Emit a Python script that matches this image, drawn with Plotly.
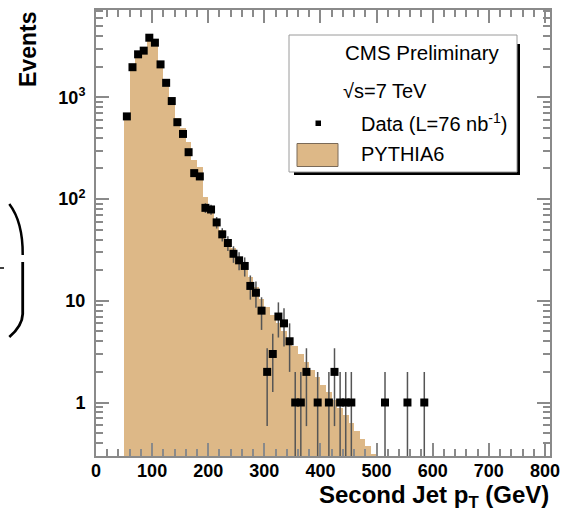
import numpy as np
import plotly.graph_objects as go

# ---------------- data ----------------
data_pt = [55, 65, 75, 85, 95, 105, 115, 125, 135, 145, 155, 165, 175, 185, 195,
           205, 215, 225, 235, 245, 255, 265, 275, 285, 295, 305, 315, 325, 335,
           345, 355, 365, 375, 395, 415, 425, 435, 445, 455, 515, 555, 585]
data_n = [650, 1980, 2650, 2880, 3860, 3450, 2110, 1390, 920, 570, 437, 289, 180,
          167, 82, 79, 59, 45, 37, 29, 25, 22, 14, 12, 8, 2, 3, 7, 6, 4, 1, 1, 2,
          1, 1, 2, 1, 1, 1, 1, 1, 1]

mc_pt = [55, 65, 75, 85, 95, 105, 115, 125, 135, 145, 155, 165, 175, 185, 195,
         205, 215, 225, 235, 245, 255, 265, 275, 285, 295, 305, 315, 325, 335,
         345, 355, 365, 375, 385, 395, 405, 415, 425, 435, 445, 455, 465, 475,
         485, 495]
mc_val = [670, 2080, 2550, 3100, 3600, 3280, 2240, 1480, 985, 630, 495, 367, 242,
          208, 105, 81, 62, 50, 40, 33, 27, 21.6, 17.3, 13.8, 10.4, 8.7, 7.3, 6.1,
          5.1, 4.3, 3.6, 3.0, 2.5, 2.1, 1.8, 1.5, 1.26, 1.06, 0.89, 0.75, 0.63,
          0.53, 0.44, 0.37, 0.31]
bin_width = 10

x_major = [0, 100, 200, 300, 400, 500, 600, 700, 800]
x_minor = [v for v in range(0, 820, 20) if v % 100 != 0]
y_major = [1, 10, 100, 1000]
y_major_text = ["<b>1</b>", "<b>10</b>", "<b>10<sup>2</sup></b>", "<b>10<sup>3</sup></b>"]
y_minor = [m * 10 ** e for e in range(-1, 4) for m in range(2, 10)
           if 0.29 < m * 10 ** e < 7300]

# ---------------- layout geometry (pixels) ----------------
FW, FH = 561, 512
ML, MR, MT, MB = 96, 11, 10, 56
PW, PH = FW - ML - MR, FH - MT - MB


def px(x):
    return (x - ML) / PW


def py(y):
    return (FH - MB - y) / PH


FRAME = "#8a8a8a"
TAN = "#DDB887"
FONT = "Liberation Sans"

fig = go.Figure()

fig.add_trace(go.Bar(
    x=mc_pt, y=mc_val, width=bin_width,
    marker=dict(color=TAN, line=dict(width=0)),
    showlegend=False, hoverinfo="skip"))

err = [float(np.sqrt(n)) for n in data_n]
fig.add_trace(go.Scatter(
    x=data_pt, y=data_n, mode="markers",
    marker=dict(symbol="square", size=8, color="black"),
    error_y=dict(type="data", array=err, visible=True, color="#555555",
                 thickness=1.5, width=0),
    showlegend=False))

axis_common = dict(
    showline=True, linecolor=FRAME, linewidth=2, mirror="ticks",
    ticks="inside", ticklen=13, tickwidth=1.5, tickcolor=FRAME,
    showgrid=False, zeroline=False, automargin=False,
    tickfont=dict(family=FONT, size=18, color="black", weight="bold"),
)

fig.update_layout(
    width=FW, height=FH,
    margin=dict(l=ML, r=MR, t=MT, b=MB, autoexpand=False),
    paper_bgcolor="white", plot_bgcolor="white",
    bargap=0, showlegend=False,
    xaxis=dict(range=[0, 809], tickmode="array", tickvals=x_major,
               ticktext=["<b>%d</b>" % v for v in x_major], ticklabelstandoff=-3,
               minor=dict(tickmode="array", tickvals=x_minor, ticks="inside",
                          ticklen=7, tickwidth=1.5, tickcolor=FRAME),
               **axis_common),
    yaxis=dict(type="log", range=[-0.526, 3.859], tickmode="array",
               tickvals=y_major, ticktext=y_major_text, ticklabelstandoff=5,
               minor=dict(tickmode="array", tickvals=y_minor, ticks="inside",
                          ticklen=7, tickwidth=1.5, tickcolor=FRAME),
               **axis_common),
)

# ---------------- legend box (manual) ----------------
shapes = []
shapes.append(dict(type="rect", xref="paper", yref="paper",
                   x0=px(294), x1=px(520), y0=py(175), y1=py(44),
                   fillcolor="black", line=dict(width=0)))
shapes.append(dict(type="rect", xref="paper", yref="paper",
                   x0=px(289), x1=px(517), y0=py(172), y1=py(35),
                   fillcolor="white", line=dict(color="#9a9a9a", width=1)))
shapes.append(dict(type="rect", xref="paper", yref="paper",
                   x0=px(315.5), x1=px(321), y0=py(126), y1=py(120.5),
                   fillcolor="black", line=dict(width=0)))
shapes.append(dict(type="rect", xref="paper", yref="paper",
                   x0=px(297), x1=px(338), y0=py(166.5), y1=py(143.5),
                   fillcolor=TAN, line=dict(color="#7a6a58", width=1)))

# stray bracket glyph at the far left
shapes.append(dict(type="path", xref="paper", yref="paper",
                   path="M %f,%f Q %f,%f %f,%f" % (px(9.3), py(204), px(23), py(222),
                                                  px(22.7), py(255)),
                   line=dict(color="black", width=2.5)))
shapes.append(dict(type="path", xref="paper", yref="paper",
                   path="M %f,%f L %f,%f Q %f,%f %f,%f" % (
                       px(22.7), py(262), px(22.7), py(314), px(22.3), py(326),
                       px(9.3), py(337)),
                   line=dict(color="black", width=2.8)))
shapes.append(dict(type="line", xref="paper", yref="paper",
                   x0=px(0), x1=px(4), y0=py(268), y1=py(268),
                   line=dict(color="black", width=1.5)))

annotations = []


def add_text(text, x, y, size, xanchor="left", yanchor="middle", angle=0, bold=False):
    annotations.append(dict(
        text=text, x=px(x), y=py(y), xref="paper", yref="paper",
        xanchor=xanchor, yanchor=yanchor, showarrow=False, textangle=angle,
        font=dict(family=FONT, size=size, color="black",
                  weight="bold" if bold else "normal")))


add_text("CMS Preliminary", 502, 53, 20.5, xanchor="right")
add_text("√s=7 TeV", 341, 91, 20)
add_text("Data (L=76 nb<sup>-1</sup>)", 359, 123, 20)
add_text("PYTHIA6", 359, 154, 20)
add_text("Second Jet p<sub>T</sub> (GeV)", 551, 497, 24, xanchor="right", bold=True)
add_text("Events", 28, 50, 23, xanchor="center", angle=-90, bold=True)

fig.update_layout(shapes=shapes, annotations=annotations)

fig.write_html("out.html",
               config={"displayModeBar": False},
               post_script="document.body.style.margin='0';"
                           "document.body.style.overflow='hidden';")
